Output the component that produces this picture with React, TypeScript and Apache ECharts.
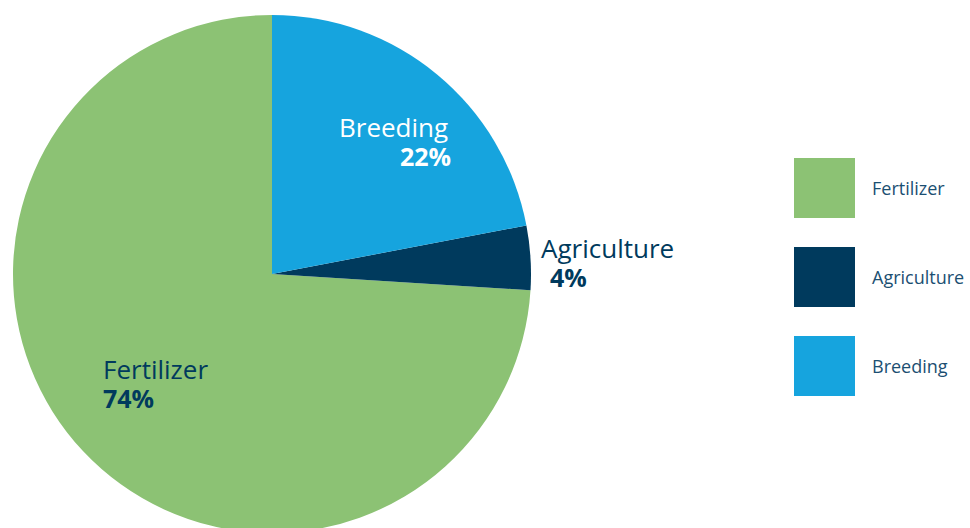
import React, { useEffect, useRef } from "react";
import * as echarts from "echarts";

const categories = ["Fertilizer", "Agriculture", "Breeding"];
const values = [74, 4, 22];
const colors = ["#8CC274", "#003A5D", "#16A4DE"];
const labelColors = ["#003A5D", "#003A5D", "#FFFFFF"];
// label anchor (x, y) and indent of the percentage line
const labelPos = [
  { x: 103, y: 354, indent: 0 },
  { x: 541, y: 233, indent: 9 },
  { x: 339, y: 112, indent: 61 },
];

export default function App() {
  const ref = useRef<HTMLDivElement>(null);
  useEffect(() => {
    if (!ref.current) return;
    const chart = echarts.init(ref.current, undefined, { renderer: "svg" });
    const font = "'Open Sans', sans-serif";
    chart.setOption({
      animation: false,
      legend: {
        orient: "vertical",
        left: 794,
        top: 158,
        padding: 0,
        itemWidth: 61,
        itemHeight: 60,
        itemGap: 29,
        icon: "rect",
        selectedMode: false,
        data: categories,
        textStyle: {
          color: "#1B4F72",
          fontSize: 18,
          fontFamily: font,
          padding: [2, 0, 0, 12],
        },
      },
      series: [
        {
          type: "pie",
          center: [272, 274],
          radius: 259,
          startAngle: 90,
          clockwise: false,
          silent: true,
          emphasis: { disabled: true },
          labelLine: { show: false },
          data: categories.map((c, i) => ({
            name: c,
            value: values[i],
            itemStyle: { color: colors[i] },
            label: {
              show: true,
              position: "inside",
              overflow: "none",
              formatter: "{n|{b}}\n{p|{d}%}",
              rich: {
                n: {
                  color: labelColors[i],
                  fontSize: 26,
                  fontFamily: font,
                  fontWeight: 400,
                  lineHeight: 29,
                },
                p: {
                  color: labelColors[i],
                  fontSize: 25,
                  fontFamily: font,
                  fontWeight: 700,
                  lineHeight: 29,
                  padding: [0, 0, 0, labelPos[i].indent],
                },
              },
            },
          })),
          labelLayout: (params: any) => {
            const p = labelPos[params.dataIndex];
            return { x: p.x, y: p.y, align: "left", verticalAlign: "top" };
          },
        },
      ],
    });
    return () => chart.dispose();
  }, []);
  return (
    <div
      ref={ref}
      style={{ position: "fixed", left: 0, top: 0, width: 970, height: 528, background: "#fff" }}
    />
  );
}
